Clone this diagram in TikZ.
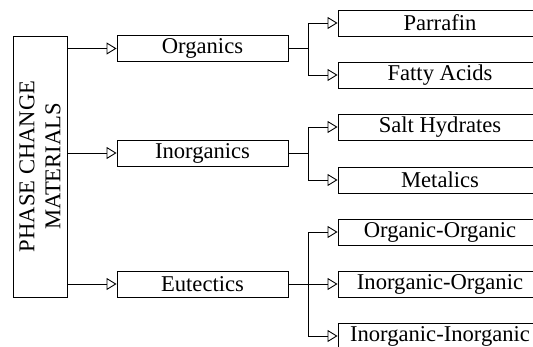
\documentclass[tikz,border=0pt]{standalone}
\usepackage{fontspec}
\setmainfont{Liberation Serif}
\usetikzlibrary{arrows.meta}

\tikzset{
  box/.style={draw, line width=0.9pt, inner sep=0pt, minimum height=26pt,
    font=\fontsize{22.6}{26}\selectfont},
  midbox/.style={box, minimum width=171pt},
  leafbox/.style={box, minimum width=204pt},
  arr/.style={line width=0.9pt, -{Triangle[open, length=10pt, width=12pt, line width=0.9pt]}}
}

\begin{document}
\begin{tikzpicture}[x=1pt, y=-1pt]

\useasboundingbox (0,0) rectangle (533,347);
\clip (0,0) rectangle (533,347);

\node [box, rotate=90, align=center, minimum width=261pt, minimum height=54pt] (pcm) at (40,166.5) {PHASE CHANGE\\MATERIALS};

\node [midbox] (org) at (202.5, 48.5) {Organics};
\node [midbox] (inorg) at (202.5, 153) {Inorganics};
\node [midbox] (eut) at (202.5, 284) {Eutectics};

\node [leafbox] (par) at (440, 23) {Parrafin};
\node [leafbox] (fat) at (440, 75) {Fatty Acids};
\node [leafbox] (salt) at (440, 127) {Salt Hydrates};
\node [leafbox] (met) at (440, 180) {Metalics};
\node [leafbox] (oo) at (440, 232) {Organic-Organic};
\node [leafbox] (io) at (440, 284) {Inorganic-Organic};
\node [leafbox] (ii) at (440, 336) {Inorganic-Inorganic};

% main arrows
\draw [arr] (pcm.south |- org.west) -- (org.west);
\draw [arr] (pcm.south |- inorg.west) -- (inorg.west);
\draw [arr] (pcm.south |- eut.west) -- (eut.west);

% Organics
\draw [arr] (org.east) -- ++(20,0) |- (par.west);
\draw [arr] (org.east) -- ++(20,0) |- (fat.west);

% Inorganics
\draw [arr] (inorg.east) -- ++(20,0) |- (salt.west);
\draw [arr] (inorg.east) -- ++(20,0) |- (met.west);

% Eutectics
\draw [arr] (eut.east) -- ++(20,0) |- (oo.west);
\draw [arr] (eut.east) -- (io.west);
\draw [arr] (eut.east) -- ++(20,0) |- (ii.west);

\end{tikzpicture}
\end{document}
